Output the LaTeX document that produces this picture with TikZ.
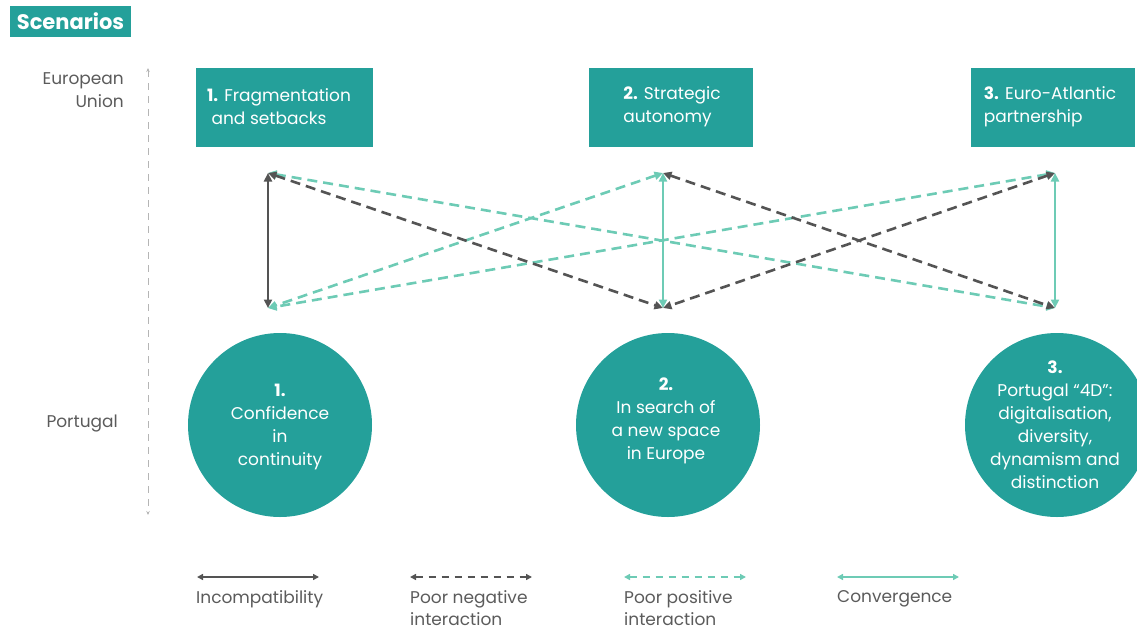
\documentclass[tikz,border=0pt]{standalone}
\usepackage{fontspec}
\setmainfont{Poppins}
\usetikzlibrary{arrows.meta}
\definecolor{tealbox}{HTML}{24A09A}
\definecolor{lightteal}{HTML}{6DCBB5}
\definecolor{darkline}{HTML}{545454}
\definecolor{labelgray}{HTML}{5B5B5B}
\definecolor{axisgray}{HTML}{B5B5B5}

\begin{document}
\begin{tikzpicture}[x=1pt,y=-1pt,
  bodyfont/.style={font=\fontsize{17}{23}\selectfont},
  link/.style={line width=2.6pt,
    {Triangle[length=8.5pt,width=8pt]}-{Triangle[length=8.5pt,width=8pt]}},
  keyline/.style={line width=2pt,
    {Triangle[length=6pt,width=6pt]}-{Triangle[length=6pt,width=6pt]}},
  dark/.style={draw=darkline},
  light/.style={draw=lightteal},
  dashes/.style={dash pattern=on 10pt off 6pt},
  eubox/.style={fill=tealbox, minimum height=79pt, inner sep=0pt},
  eutext/.style={bodyfont, text=white, align=left, inner sep=0pt},
  ptcircle/.style={circle, fill=tealbox, minimum size=184pt, inner sep=0pt},
  pttext/.style={bodyfont, text=white, align=center, inner sep=0pt},
  sidelabel/.style={bodyfont, text=labelgray, inner sep=0pt},
  keylabel/.style={font=\fontsize{17}{22}\selectfont, text=labelgray, align=left,
    inner sep=0pt, anchor=north west},
]
\useasboundingbox (0,0) rectangle (1137,629);

% title
\node[fill=tealbox, text=white, minimum width=121pt, minimum height=31pt, inner sep=0pt,
      font=\fontsize{21}{24}\selectfont\bfseries] (title) at (70.5,21.5) {Scenarios};

% side labels and axis
\node[sidelabel, align=right, anchor=north east] (eulabel) at (124,72) {European\\Union};
\node[sidelabel, anchor=base east] (ptlabel) at (118,427) {Portugal};
\coordinate (axtop) at (148,68);
\coordinate (axbot) at (148,515);
\draw[axisgray, line width=0.8pt, dash pattern=on 7pt off 6pt,
      {Stealth[length=4pt,width=3.5pt]}-{Stealth[length=4pt,width=3.5pt]}] (axtop) -- (axbot);

% EU scenarios
\node[eubox, minimum width=177pt] (eu1) at (284.5,107.5) {};
\node[eutext] (eu1t) at (279,107) {\textbf{1.} Fragmentation\\\ and setbacks};
\node[eubox, minimum width=164pt] (eu2) at (671,107.5) {};
\node[eutext] (eu2t) at (672,107) {\textbf{2.} Strategic\\autonomy};
\node[eubox, minimum width=164pt] (eu3) at (1053,107.5) {};
\node[eutext] (eu3t) at (1050,107) {\textbf{3.} Euro-Atlantic\\partnership};

% Portugal scenarios
\node[ptcircle] (pt1) at (280,425) {};
\node[pttext] (pt1t) at (280,427) {\textbf{1.}\\Confidence\\in\\continuity};
\node[ptcircle] (pt2) at (668,425) {};
\node[pttext] (pt2t) at (666,421) {\textbf{2.}\\In search of\\a new space\\in Europe};
\node[ptcircle] (pt3) at (1057,425) {};
\node[pttext] (pt3t) at (1055,425) {\textbf{3.}\\Portugal “4D”:\\digitalisation,\\diversity,\\dynamism and\\distinction};

% link end points
\coordinate (t1) at (268,173);
\coordinate (t2) at (663,173);
\coordinate (t3) at (1055,173);
\coordinate (b1) at (268,308);
\coordinate (b2) at (663,308);
\coordinate (b3) at (1055,308);

% interactions
\draw[link, light, dashes] (t1) -- (b3);
\draw[link, light, dashes] (t3) -- (b1);
\draw[link, light, dashes] (t2) -- (b1);
\draw[link, dark, dashes] (t1) -- (b2);
\draw[link, dark, dashes] (t2) -- (b3);
\draw[link, dark, dashes] (t3) -- (b2);
\draw[link, dark] (t1) -- (b1);
\draw[link, light] (t2) -- (b2);
\draw[link, light] (t3) -- (b3);

% key
\coordinate (k1a) at (197,577); \coordinate (k1b) at (319,577);
\coordinate (k2a) at (410,577); \coordinate (k2b) at (532,577);
\coordinate (k3a) at (624,577); \coordinate (k3b) at (746,577);
\coordinate (k4a) at (837,577); \coordinate (k4b) at (959,577);
\draw[keyline, dark] (k1a) -- (k1b);
\draw[keyline, dark, dash pattern=on 7pt off 6pt] (k2a) -- (k2b);
\draw[keyline, light, dash pattern=on 7pt off 6pt] (k3a) -- (k3b);
\draw[keyline, light] (k4a) -- (k4b);
\node[keylabel] (k1t) at (196,590) {Incompatibility};
\node[keylabel] (k2t) at (410,590) {Poor negative\\interaction};
\node[keylabel] (k3t) at (624,590) {Poor positive\\interaction};
\node[keylabel] (k4t) at (837,590) {Convergence};
\end{tikzpicture}
\end{document}
